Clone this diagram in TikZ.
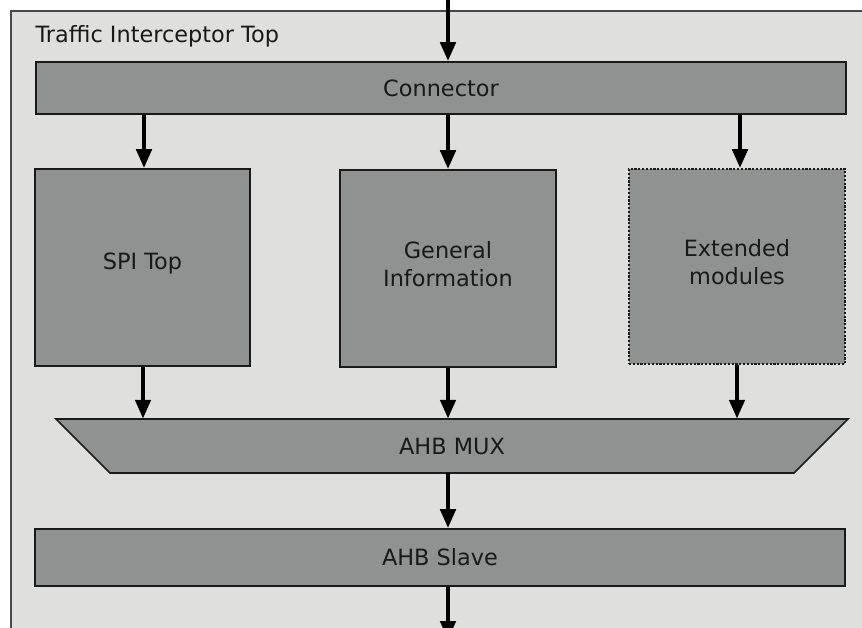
\documentclass[tikz,border=0pt]{standalone}
\usepackage{fontspec}
\setmainfont{DejaVu Sans}
\usetikzlibrary{arrows.meta}
\definecolor{framefill}{HTML}{DFE0DD}
\definecolor{blockfill}{HTML}{8F9291}
\definecolor{edge}{HTML}{1A1A1A}
\tikzset{
  label font/.style={font=\fontsize{22.4}{28}\selectfont, text=black!90},
  block/.style={draw=edge, line width=1.6pt, fill=blockfill, inner sep=0pt,
    label font, align=center},
  % tall blocks carry their caption slightly above the centre
  caption/.style={label={[label font, align=center, yshift=4pt]center:#1}},
  flow/.style={line width=4.5pt, -{Triangle[width=15pt,length=19pt]}, black},
}
\begin{document}
\begin{tikzpicture}[x=1pt,y=-1pt]
\useasboundingbox (0,0) rectangle (862,628);
% enclosing frame (runs off the right and bottom edges)
\path[fill=framefill, draw=edge!80, line width=1.8pt] (11,11) rectangle (880,650);
\node[anchor=base west, label font] (title) at (32,43) {Traffic Interceptor Top};

\node[block, minimum width=810pt, minimum height=52pt] (conn) at (441,88) {Connector};
\node[block, minimum width=215pt, minimum height=197pt, caption={SPI Top}] (spi) at (142.5,267.5) {};
\node[block, minimum width=216pt, minimum height=197pt, caption={General\\Information}] (gen) at (448,268.5) {};
\node[block, dash pattern=on 2.2pt off 1.6pt, minimum width=216pt, minimum height=195pt,
  caption={Extended\\modules}] (ext) at (737,266.5) {};
% multiplexer: inverted trapezoid
\draw[draw=edge, line width=1.6pt, fill=blockfill, line join=miter]
  (56,419) -- (848,419) -- (794,473) -- (110,473) -- cycle;
\node[label font, minimum width=792pt, minimum height=54pt, inner sep=0pt] (mux) at (452,446) {AHB MUX};
\node[block, minimum width=810pt, minimum height=57pt] (slave) at (440,557.5) {AHB Slave};

\coordinate (in) at (448,0);
\coordinate (out) at (448,640);
\draw[flow] (in) -- (conn.north -| in);
\draw[flow] (conn.south -| 144,0) -- (spi.north -| 144,0);
\draw[flow] (conn.south -| gen) -- (gen.north);
\draw[flow] (conn.south -| 740,0) -- (ext.north -| 740,0);
\draw[flow] (spi.south -| 143,0) -- (mux.north -| 143,0);
\draw[flow] (gen.south) -- (mux.north -| gen);
\draw[flow] (ext.south -| ext) -- (mux.north -| ext);
\draw[flow] (mux.south -| 448,0) -- (slave.north -| 448,0);
\draw[flow] (slave.south -| 448,0) -- (out);
\end{tikzpicture}
\end{document}
